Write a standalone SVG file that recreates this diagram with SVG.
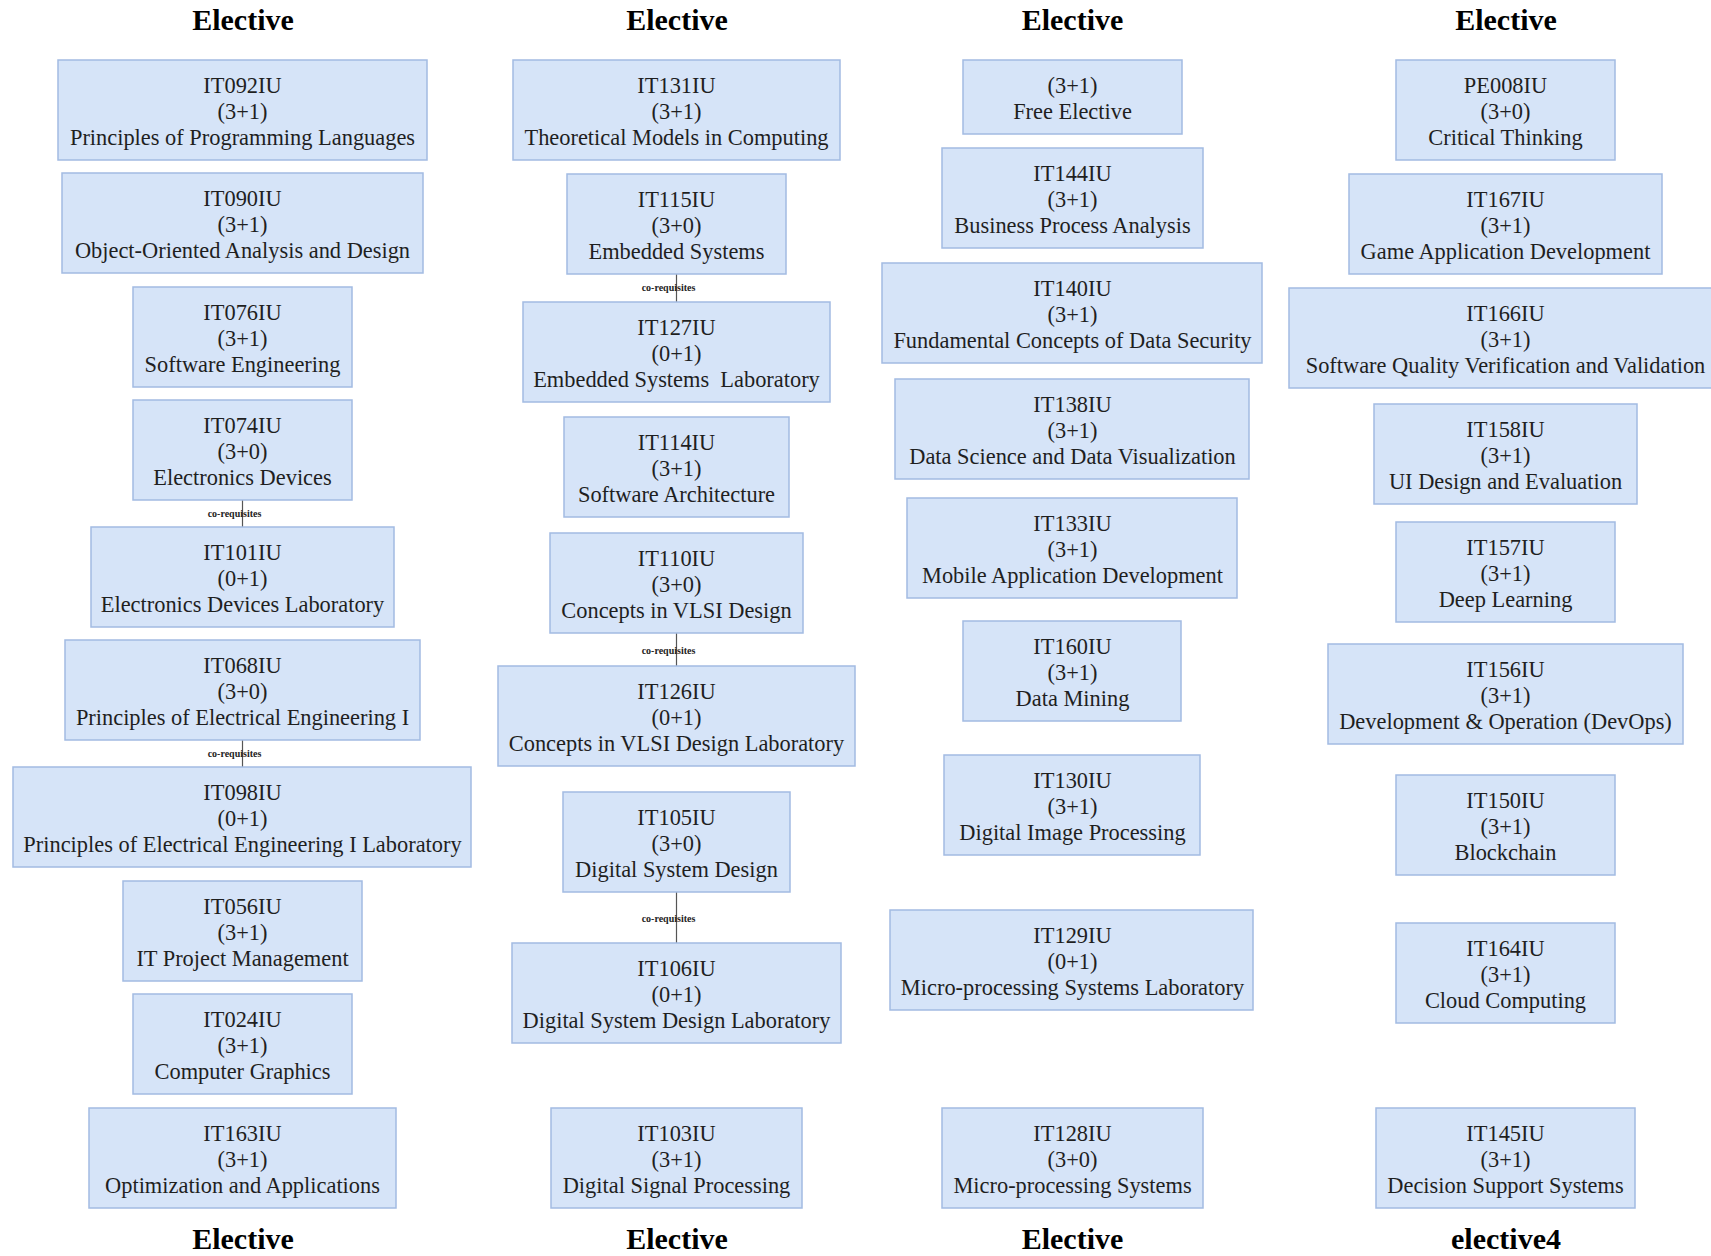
<svg xmlns="http://www.w3.org/2000/svg" width="1711" height="1256" viewBox="0 0 1711 1256">
  <style>
    .box rect { fill: #d6e4f8; stroke: #a2bbe2; stroke-width: 1.5; }
    .box text { font-family: "Liberation Serif", "Times New Roman", serif; font-size: 22.4px; fill: #1f1f1f; text-anchor: middle; }
    .hdr { font-family: "Liberation Serif", "Times New Roman", serif; font-size: 30px; font-weight: bold; fill: #000; text-anchor: middle; }
    .edges line { stroke: #555; stroke-width: 1.2; }
    .edges text { font-family: "Liberation Serif", "Times New Roman", serif; font-size: 10px; font-weight: bold; fill: #222; text-anchor: middle; }
  </style>
  <rect width="1711" height="1256" fill="#ffffff"/>

  <!-- column headers and footers -->
  <g id="headers">
    <text class="hdr" x="243" y="30">Elective</text>
    <text class="hdr" x="677" y="30">Elective</text>
    <text class="hdr" x="1072.5" y="30">Elective</text>
    <text class="hdr" x="1506" y="30">Elective</text>
    <text class="hdr" x="243" y="1249">Elective</text>
    <text class="hdr" x="677" y="1249">Elective</text>
    <text class="hdr" x="1072.5" y="1249">Elective</text>
    <text class="hdr" x="1506" y="1249">elective4</text>
  </g>

  <!-- co-requisite links -->
  <g class="edges" id="edges">
    <line x1="242.5" y1="500" x2="242.5" y2="527"/>
    <text x="234.5" y="517">co-requisites</text>
    <line x1="242.5" y1="740" x2="242.5" y2="767"/>
    <text x="234.5" y="757">co-requisites</text>
    <line x1="676.5" y1="274" x2="676.5" y2="302"/>
    <text x="668.5" y="291">co-requisites</text>
    <line x1="676.5" y1="633" x2="676.5" y2="666"/>
    <text x="668.5" y="654">co-requisites</text>
    <line x1="676.5" y1="892" x2="676.5" y2="943"/>
    <text x="668.5" y="922">co-requisites</text>
  </g>

  <!-- column 1 -->
  <g class="box" id="IT092IU"><rect x="58" y="60" width="369" height="100"/><text y="93"><tspan x="242.5">IT092IU</tspan><tspan x="242.5" dy="26">(3+1)</tspan><tspan x="242.5" dy="26">Principles of Programming Languages</tspan></text></g>
  <g class="box" id="IT090IU"><rect x="62" y="173" width="361" height="100"/><text y="206"><tspan x="242.5">IT090IU</tspan><tspan x="242.5" dy="26">(3+1)</tspan><tspan x="242.5" dy="26">Object-Oriented Analysis and Design</tspan></text></g>
  <g class="box" id="IT076IU"><rect x="133" y="287" width="219" height="100"/><text y="320"><tspan x="242.5">IT076IU</tspan><tspan x="242.5" dy="26">(3+1)</tspan><tspan x="242.5" dy="26">Software Engineering</tspan></text></g>
  <g class="box" id="IT074IU"><rect x="133" y="400" width="219" height="100"/><text y="433"><tspan x="242.5">IT074IU</tspan><tspan x="242.5" dy="26">(3+0)</tspan><tspan x="242.5" dy="26">Electronics Devices</tspan></text></g>
  <g class="box" id="IT101IU"><rect x="91" y="527" width="303" height="100"/><text y="560"><tspan x="242.5">IT101IU</tspan><tspan x="242.5" dy="26">(0+1)</tspan><tspan x="242.5" dy="26">Electronics Devices Laboratory</tspan></text></g>
  <g class="box" id="IT068IU"><rect x="65" y="640" width="355" height="100"/><text y="673"><tspan x="242.5">IT068IU</tspan><tspan x="242.5" dy="26">(3+0)</tspan><tspan x="242.5" dy="26">Principles of Electrical Engineering I</tspan></text></g>
  <g class="box" id="IT098IU"><rect x="13" y="767" width="458" height="100"/><text y="800"><tspan x="242.5">IT098IU</tspan><tspan x="242.5" dy="26">(0+1)</tspan><tspan x="242.5" dy="26">Principles of Electrical Engineering I Laboratory</tspan></text></g>
  <g class="box" id="IT056IU"><rect x="123" y="881" width="239" height="100"/><text y="914"><tspan x="242.5">IT056IU</tspan><tspan x="242.5" dy="26">(3+1)</tspan><tspan x="242.5" dy="26">IT Project Management</tspan></text></g>
  <g class="box" id="IT024IU"><rect x="133" y="994" width="219" height="100"/><text y="1027"><tspan x="242.5">IT024IU</tspan><tspan x="242.5" dy="26">(3+1)</tspan><tspan x="242.5" dy="26">Computer Graphics</tspan></text></g>
  <g class="box" id="IT163IU"><rect x="89" y="1108" width="307" height="100"/><text y="1141"><tspan x="242.5">IT163IU</tspan><tspan x="242.5" dy="26">(3+1)</tspan><tspan x="242.5" dy="26">Optimization and Applications</tspan></text></g>

  <!-- column 2 -->
  <g class="box" id="IT131IU"><rect x="513" y="60" width="327" height="100"/><text y="93"><tspan x="676.5">IT131IU</tspan><tspan x="676.5" dy="26">(3+1)</tspan><tspan x="676.5" dy="26">Theoretical Models in Computing</tspan></text></g>
  <g class="box" id="IT115IU"><rect x="567" y="174" width="219" height="100"/><text y="207"><tspan x="676.5">IT115IU</tspan><tspan x="676.5" dy="26">(3+0)</tspan><tspan x="676.5" dy="26">Embedded Systems</tspan></text></g>
  <g class="box" id="IT127IU"><rect x="523" y="302" width="307" height="100"/><text y="335" style="white-space:pre"><tspan x="676.5">IT127IU</tspan><tspan x="676.5" dy="26">(0+1)</tspan><tspan x="676.5" dy="26">Embedded Systems  Laboratory</tspan></text></g>
  <g class="box" id="IT114IU"><rect x="564" y="417" width="225" height="100"/><text y="450"><tspan x="676.5">IT114IU</tspan><tspan x="676.5" dy="26">(3+1)</tspan><tspan x="676.5" dy="26">Software Architecture</tspan></text></g>
  <g class="box" id="IT110IU"><rect x="550" y="533" width="253" height="100"/><text y="566"><tspan x="676.5">IT110IU</tspan><tspan x="676.5" dy="26">(3+0)</tspan><tspan x="676.5" dy="26">Concepts in VLSI Design</tspan></text></g>
  <g class="box" id="IT126IU"><rect x="498" y="666" width="357" height="100"/><text y="699"><tspan x="676.5">IT126IU</tspan><tspan x="676.5" dy="26">(0+1)</tspan><tspan x="676.5" dy="26">Concepts in VLSI Design Laboratory</tspan></text></g>
  <g class="box" id="IT105IU"><rect x="563" y="792" width="227" height="100"/><text y="825"><tspan x="676.5">IT105IU</tspan><tspan x="676.5" dy="26">(3+0)</tspan><tspan x="676.5" dy="26">Digital System Design</tspan></text></g>
  <g class="box" id="IT106IU"><rect x="512" y="943" width="329" height="100"/><text y="976"><tspan x="676.5">IT106IU</tspan><tspan x="676.5" dy="26">(0+1)</tspan><tspan x="676.5" dy="26">Digital System Design Laboratory</tspan></text></g>
  <g class="box" id="IT103IU"><rect x="551" y="1108" width="251" height="100"/><text y="1141"><tspan x="676.5">IT103IU</tspan><tspan x="676.5" dy="26">(3+1)</tspan><tspan x="676.5" dy="26">Digital Signal Processing</tspan></text></g>

  <!-- column 3 -->
  <g class="box" id="FreeElective"><rect x="963" y="60" width="219" height="74"/><text y="93"><tspan x="1072.5">(3+1)</tspan><tspan x="1072.5" dy="26">Free Elective</tspan></text></g>
  <g class="box" id="IT144IU"><rect x="942" y="148" width="261" height="100"/><text y="181"><tspan x="1072.5">IT144IU</tspan><tspan x="1072.5" dy="26">(3+1)</tspan><tspan x="1072.5" dy="26">Business Process Analysis</tspan></text></g>
  <g class="box" id="IT140IU"><rect x="882" y="263" width="380" height="100"/><text y="296"><tspan x="1072.5">IT140IU</tspan><tspan x="1072.5" dy="26">(3+1)</tspan><tspan x="1072.5" dy="26">Fundamental Concepts of Data Security</tspan></text></g>
  <g class="box" id="IT138IU"><rect x="895" y="379" width="354" height="100"/><text y="412"><tspan x="1072.5">IT138IU</tspan><tspan x="1072.5" dy="26">(3+1)</tspan><tspan x="1072.5" dy="26">Data Science and Data Visualization</tspan></text></g>
  <g class="box" id="IT133IU"><rect x="907" y="498" width="330" height="100"/><text y="531"><tspan x="1072.5">IT133IU</tspan><tspan x="1072.5" dy="26">(3+1)</tspan><tspan x="1072.5" dy="26">Mobile Application Development</tspan></text></g>
  <g class="box" id="IT160IU"><rect x="963" y="621" width="218" height="100"/><text y="654"><tspan x="1072.5">IT160IU</tspan><tspan x="1072.5" dy="26">(3+1)</tspan><tspan x="1072.5" dy="26">Data Mining</tspan></text></g>
  <g class="box" id="IT130IU"><rect x="944" y="755" width="256" height="100"/><text y="788"><tspan x="1072.5">IT130IU</tspan><tspan x="1072.5" dy="26">(3+1)</tspan><tspan x="1072.5" dy="26">Digital Image Processing</tspan></text></g>
  <g class="box" id="IT129IU"><rect x="890" y="910" width="363" height="100"/><text y="943"><tspan x="1072.5">IT129IU</tspan><tspan x="1072.5" dy="26">(0+1)</tspan><tspan x="1072.5" dy="26">Micro-processing Systems Laboratory</tspan></text></g>
  <g class="box" id="IT128IU"><rect x="942" y="1108" width="261" height="100"/><text y="1141"><tspan x="1072.5">IT128IU</tspan><tspan x="1072.5" dy="26">(3+0)</tspan><tspan x="1072.5" dy="26">Micro-processing Systems</tspan></text></g>

  <!-- column 4 -->
  <g class="box" id="PE008IU"><rect x="1396" y="60" width="219" height="100"/><text y="93"><tspan x="1505.5">PE008IU</tspan><tspan x="1505.5" dy="26">(3+0)</tspan><tspan x="1505.5" dy="26">Critical Thinking</tspan></text></g>
  <g class="box" id="IT167IU"><rect x="1349" y="174" width="313" height="100"/><text y="207"><tspan x="1505.5">IT167IU</tspan><tspan x="1505.5" dy="26">(3+1)</tspan><tspan x="1505.5" dy="26">Game Application Development</tspan></text></g>
  <g class="box" id="IT166IU"><rect x="1289" y="288" width="433" height="100"/><text y="321"><tspan x="1505.5">IT166IU</tspan><tspan x="1505.5" dy="26">(3+1)</tspan><tspan x="1505.5" dy="26">Software Quality Verification and Validation</tspan></text></g>
  <g class="box" id="IT158IU"><rect x="1374" y="404" width="263" height="100"/><text y="437"><tspan x="1505.5">IT158IU</tspan><tspan x="1505.5" dy="26">(3+1)</tspan><tspan x="1505.5" dy="26">UI Design and Evaluation</tspan></text></g>
  <g class="box" id="IT157IU"><rect x="1396" y="522" width="219" height="100"/><text y="555"><tspan x="1505.5">IT157IU</tspan><tspan x="1505.5" dy="26">(3+1)</tspan><tspan x="1505.5" dy="26">Deep Learning</tspan></text></g>
  <g class="box" id="IT156IU"><rect x="1328" y="644" width="355" height="100"/><text y="677"><tspan x="1505.5">IT156IU</tspan><tspan x="1505.5" dy="26">(3+1)</tspan><tspan x="1505.5" dy="26">Development &amp; Operation (DevOps)</tspan></text></g>
  <g class="box" id="IT150IU"><rect x="1396" y="775" width="219" height="100"/><text y="808"><tspan x="1505.5">IT150IU</tspan><tspan x="1505.5" dy="26">(3+1)</tspan><tspan x="1505.5" dy="26">Blockchain</tspan></text></g>
  <g class="box" id="IT164IU"><rect x="1396" y="923" width="219" height="100"/><text y="956"><tspan x="1505.5">IT164IU</tspan><tspan x="1505.5" dy="26">(3+1)</tspan><tspan x="1505.5" dy="26">Cloud Computing</tspan></text></g>
  <g class="box" id="IT145IU"><rect x="1376" y="1108" width="259" height="100"/><text y="1141"><tspan x="1505.5">IT145IU</tspan><tspan x="1505.5" dy="26">(3+1)</tspan><tspan x="1505.5" dy="26">Decision Support Systems</tspan></text></g>
</svg>
